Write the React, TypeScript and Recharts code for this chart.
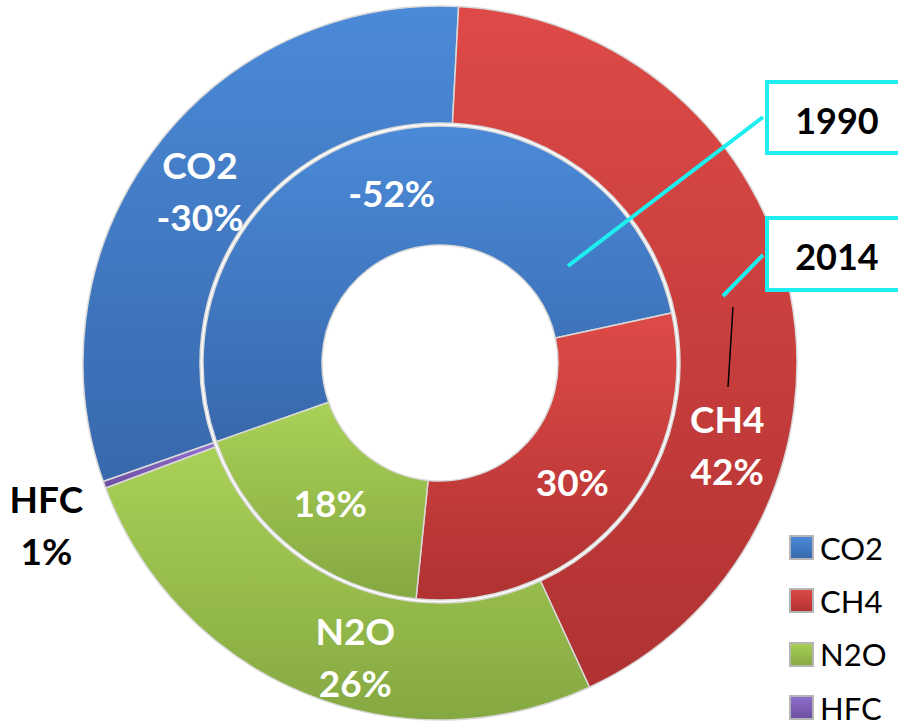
import { Cell, Pie, PieChart } from 'recharts';

const categories = ['CO2', 'CH4', 'N2O', 'HFC'];
const values1990 = [52, 30, 18, 0];
const values2014 = [31, 42, 26, 0.3];
const labels1990 = ['-52%', '30%', '18%', ''];
const labels2014 = ['-30%', '42%', '26%', '1%'];
const seriesNames = ['1990', '2014'];

const COLORS: Record<string, [string, string]> = {
  CO2: ['#4b8ad8', '#3868ac'],
  CH4: ['#de4a47', '#b03232'],
  N2O: ['#a9d156', '#85a842'],
  HFC: ['#8f6fcf', '#6a4f9f'],
};

// manual nudges for the outer ring labels (Excel had them dragged around)
const OUTER_NUDGE: Record<string, [number, number]> = {
  CO2: [-1, 6],
  CH4: [-6, 138],
  N2O: [29, 17],
  HFC: [-113, 60],
};

const FONT = 'Lato, "Open Sans", sans-serif';
const RAD = Math.PI / 180;
const CX = 440;
const CY = 363;
const START = -160.6;

const inner = categories.map((name, i) => ({ name, value: values1990[i] }));
const outer = categories.map((name, i) => ({ name, value: values2014[i] }));

function makeLabel(texts: string[], showName: boolean) {
  return (props: any) => {
    const { cx, cy, midAngle, innerRadius, outerRadius, index } = props;
    const name = categories[index];
    const text = texts[index];
    if (!text) return null;
    const r = (innerRadius + outerRadius) / 2;
    let x = cx + r * Math.cos(-midAngle * RAD);
    let y = cy + r * Math.sin(-midAngle * RAD);
    if (showName) {
      const [dx, dy] = OUTER_NUDGE[name] || [0, 0];
      x += dx;
      y += dy;
    }
    const fill = name === 'HFC' ? '#000' : '#fff';
    const style = { fontFamily: FONT, fontWeight: 700, fontSize: 37 };
    if (!showName) {
      return (
        <text x={x} y={y} textAnchor="middle" dominantBaseline="central" fill={fill} style={style}>
          {text}
        </text>
      );
    }
    return (
      <text x={x} y={y} textAnchor="middle" fill={fill} style={style}>
        <tspan x={x} y={y - 26} dominantBaseline="central">{name}</tspan>
        <tspan x={x} y={y + 26} dominantBaseline="central">{text}</tspan>
      </text>
    );
  };
}

function LegendBox() {
  return (
    <div style={{ position: 'absolute', left: 789, top: 521, fontFamily: FONT, fontSize: 31, color: '#000' }}>
      {categories.map((name) => (
        <div key={name} style={{ display: 'flex', alignItems: 'center', height: 53.3 }}>
          <svg width={25} height={25} style={{ marginRight: 6 }}>
            <defs>
              <linearGradient id={`lg-${name}`} x1="0" y1="0" x2="0" y2="1">
                <stop offset="0%" stopColor={COLORS[name][0]} />
                <stop offset="100%" stopColor={COLORS[name][1]} />
              </linearGradient>
            </defs>
            <rect x={1} y={1} width={23} height={23} fill={`url(#lg-${name})`} stroke="#b5b5b5" strokeWidth={2} />
          </svg>
          <span>{name}</span>
        </div>
      ))}
    </div>
  );
}

function Callouts() {
  const cyan = '#1eeef0';
  const txt = { fontFamily: FONT, fontWeight: 700, fontSize: 36 };
  return (
    <svg width={898} height={726} style={{ position: 'absolute', left: 0, top: 0, pointerEvents: 'none' }}>
      <line x1={763} y1={117} x2={568} y2={266} stroke={cyan} strokeWidth={4} />
      <line x1={763} y1={255} x2={723} y2={296} stroke={cyan} strokeWidth={4} />
      <line x1={733} y1={307} x2={728} y2={387} stroke="#000" strokeWidth={1.5} />
      <rect x={767} y={82} width={150} height={71} fill="#fff" stroke={cyan} strokeWidth={4} />
      <rect x={767} y={218} width={150} height={72} fill="#fff" stroke={cyan} strokeWidth={4} />
      <text x={837} y={120} textAnchor="middle" dominantBaseline="central" style={txt}>
        {seriesNames[0]}
      </text>
      <text x={837} y={256} textAnchor="middle" dominantBaseline="central" style={txt}>
        {seriesNames[1]}
      </text>
    </svg>
  );
}

export default function App() {
  return (
    <div style={{ position: 'absolute', left: 0, top: 0, width: 898, height: 726, background: '#fff' }}>
      <PieChart width={898} height={726} margin={{ top: 0, right: 0, bottom: 0, left: 0 }}>
        <defs>
          {categories.map((name) => (
            <linearGradient key={name} id={`g-${name}`} x1="0" y1="0" x2="0" y2="1">
              <stop offset="0%" stopColor={COLORS[name][0]} />
              <stop offset="100%" stopColor={COLORS[name][1]} />
            </linearGradient>
          ))}
        </defs>
        <Pie
          data={inner}
          dataKey="value"
          nameKey="name"
          cx={CX}
          cy={CY}
          innerRadius={118}
          outerRadius={237}
          startAngle={START}
          endAngle={START - 360}
          stroke="#d8d8d8"
          strokeWidth={1.5}
          label={makeLabel(labels1990, false)}
          labelLine={false}
          isAnimationActive={false}
        >
          {inner.map((d) => (
            <Cell key={d.name} fill={`url(#g-${d.name})`} />
          ))}
        </Pie>
        <Pie
          data={outer}
          dataKey="value"
          nameKey="name"
          cx={CX}
          cy={CY}
          innerRadius={240}
          outerRadius={357}
          startAngle={START}
          endAngle={START - 360}
          stroke="#d8d8d8"
          strokeWidth={1.5}
          label={makeLabel(labels2014, true)}
          labelLine={false}
          isAnimationActive={false}
        >
          {outer.map((d) => (
            <Cell key={d.name} fill={`url(#g-${d.name})`} />
          ))}
        </Pie>
      </PieChart>
      <LegendBox />
      <Callouts />
    </div>
  );
}
